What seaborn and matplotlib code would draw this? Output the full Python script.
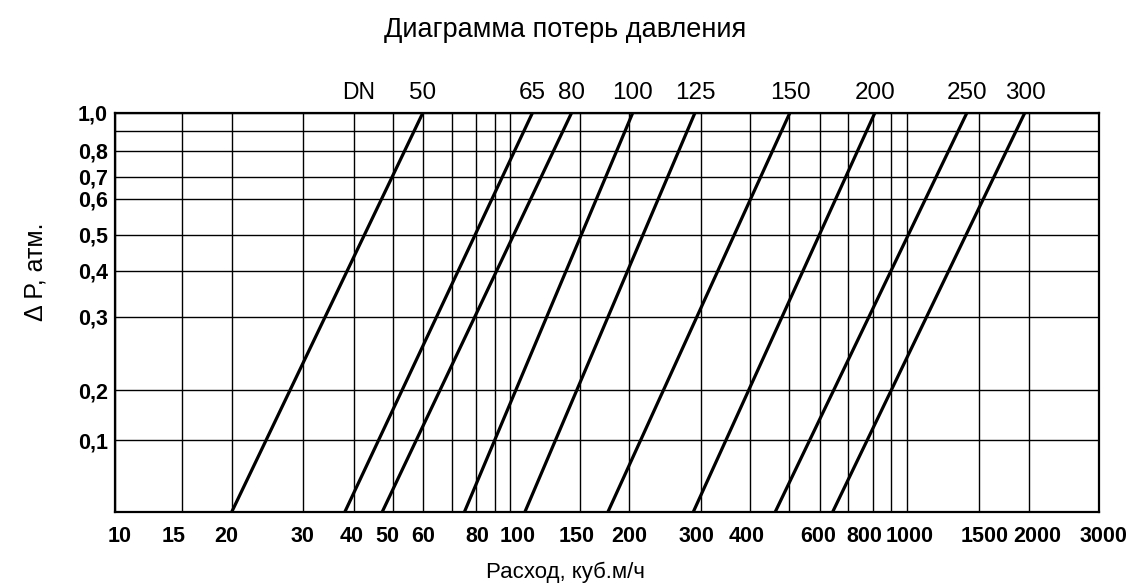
import numpy as np
import pandas as pd
import matplotlib
matplotlib.use("Agg")
import matplotlib.pyplot as plt
from matplotlib.ticker import FixedLocator, FixedFormatter, NullFormatter
from matplotlib.transforms import ScaledTranslation
import seaborn as sns

# ---------------- data ----------------
dn_labels = ["50", "65", "80", "100", "125", "150", "200", "250", "300"]
flow_at_min_dp = [20, 38, 47, 75, 109, 177, 288, 462, 644]      # m3/h at bottom of chart
flow_at_max_dp = [60, 114, 143, 205, 291, 503, 813, 1403, 1954]  # m3/h at 1.0 atm
dp_min = 0.05
dp_max = 1.0

x_tick_values = [10, 15, 20, 30, 40, 50, 60, 80, 100, 150, 200, 300, 400,
                 600, 800, 1000, 1500, 2000, 3000]
x_tick_labels = [str(v) for v in x_tick_values]
x_extra_grid = [70, 90, 500, 700, 900]
y_tick_values = [0.1, 0.2, 0.3, 0.4, 0.5, 0.6, 0.7, 0.8, 1.0]
y_tick_labels = ["0,1", "0,2", "0,3", "0,4", "0,5", "0,6", "0,7", "0,8", "1,0"]
y_extra_grid = [0.9]

title = "Диаграмма потерь давления"
xlabel = "Расход, куб.м/ч"
ylabel = "Δ P, атм."

# ------------- nomogram scale calibration (hand-drawn, non-uniform) -------------
x_cal_values = [10, 15, 20, 30, 40, 50, 60, 70, 80, 90, 100, 150, 200, 300, 400,
                500, 600, 700, 800, 900, 1000, 1500, 2000, 3000]
x_cal_pos = [115, 181.7, 231.7, 302.5, 354, 393, 423, 452, 476, 495, 510, 580,
             628.5, 700.5, 750, 789, 820, 847.5, 872.5, 891, 906.5, 979, 1029, 1099]
y_cal_values = [0.05, 0.1, 0.2, 0.3, 0.4, 0.5, 0.6, 0.7, 0.8, 0.9, 1.0]
y_cal_pos = [512, 440, 390, 317, 271, 235, 199, 176.7, 150.7, 131, 112.5]
# horizontal nudges (px) of the printed x tick labels relative to their grid lines
x_label_nudge_px = [5, -8, -5, 0, -2, -6, 0, 1, 8, -3, 1, -4, -3, -2, -8, 3, 6, 8, 4]

lx = np.log10(x_cal_values)
px = np.array(x_cal_pos, float)
ly = np.log10(y_cal_values)
py = -np.array(y_cal_pos, float)


def fwd_x(v):
    v = np.clip(np.asarray(v, float), 1e-9, None)
    return np.interp(np.log10(v), lx, px)


def inv_x(p):
    return 10 ** np.interp(np.asarray(p, float), px, lx)


def fwd_y(v):
    v = np.clip(np.asarray(v, float), 1e-9, None)
    return np.interp(np.log10(v), ly, py)


def inv_y(p):
    return 10 ** np.interp(np.asarray(p, float), py, ly)


# ---------------- table ----------------
rows = []
for dn, q0, q1 in zip(dn_labels, flow_at_min_dp, flow_at_max_dp):
    rows.append({"DN": dn, "flow": q0, "dp": dp_min})
    rows.append({"DN": dn, "flow": q1, "dp": dp_max})
df = pd.DataFrame(rows)

# ---------------- plot ----------------
sns.set_style("white")
plt.rcParams["font.family"] = ["Liberation Sans", "DejaVu Sans"]
for k in ["text.color", "axes.labelcolor", "xtick.color", "ytick.color"]:
    plt.rcParams[k] = "black"

W, H = 1131, 586
fig = plt.figure(figsize=(W / 100, H / 100), dpi=100)
ax = fig.add_axes([115 / W, 1 - 512 / H, (1099 - 115) / W, (512 - 112.5) / H])

ax.set_xscale("function", functions=(fwd_x, inv_x))
ax.set_yscale("function", functions=(fwd_y, inv_y))

sns.lineplot(data=df, x="flow", y="dp", units="DN", estimator=None, sort=False,
             color="black", linewidth=2.3, ax=ax, legend=False)

ax.set_xlim(10, 3000)
ax.set_ylim(dp_min, dp_max)

ax.xaxis.set_major_locator(FixedLocator(x_tick_values))
ax.xaxis.set_major_formatter(FixedFormatter(x_tick_labels))
ax.xaxis.set_minor_locator(FixedLocator(x_extra_grid))
ax.xaxis.set_minor_formatter(NullFormatter())
ax.yaxis.set_major_locator(FixedLocator(y_tick_values))
ax.yaxis.set_major_formatter(FixedFormatter(y_tick_labels))
ax.yaxis.set_minor_locator(FixedLocator(y_extra_grid))
ax.yaxis.set_minor_formatter(NullFormatter())

ax.grid(True, which="both", color="black", linewidth=1.0)
ax.set_axisbelow(True)
for s in ax.spines.values():
    s.set_visible(True)
    s.set_color("black")
    s.set_linewidth(1.6)

ax.tick_params(axis="both", which="both", length=0)
ax.tick_params(axis="x", pad=10)
ax.tick_params(axis="y", pad=5)
fig.canvas.draw()
for lab in ax.get_yticklabels():
    lab.set_fontsize(15.5)
    lab.set_fontweight("bold")
for lab, dx in zip(ax.get_xticklabels(), x_label_nudge_px):
    lab.set_fontsize(15.5)
    lab.set_fontweight("bold")
    lab.set_transform(lab.get_transform() + ScaledTranslation(dx / 100, 0, fig.dpi_scale_trans))

ax.set_xlabel("")
ax.set_ylabel("")

# DN labels above the chart
trans = ax.get_xaxis_transform()
ax.text(41, 1.049, "DN", transform=trans, ha="center", va="center", fontsize=16.5)
for dn, q1 in zip(dn_labels, flow_at_max_dp):
    ax.text(q1, 1.049, dn, transform=trans, ha="center", va="center", fontsize=17.5)

fig.text(565 / W, 1 - 30 / H, title, ha="center", va="center", fontsize=19.5)
fig.text(565 / W, 1 - 572 / H, xlabel, ha="center", va="center", fontsize=16)
fig.text(35 / W, 1 - 272 / H, ylabel, ha="center", va="center", rotation=90, fontsize=18)

fig.savefig("out.png", dpi=100)
